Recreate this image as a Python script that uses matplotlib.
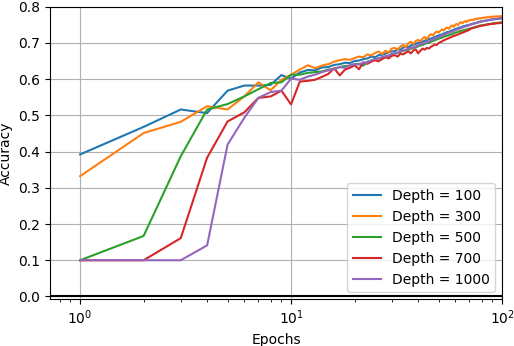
import numpy as np
import matplotlib.pyplot as plt

epochs = np.arange(1, 101)

# first 10 epochs
d100_start = [0.392, 0.468, 0.516, 0.506, 0.568, 0.582, 0.582, 0.584, 0.611, 0.601]
d300_start = [0.332, 0.451, 0.482, 0.525, 0.516, 0.552, 0.591, 0.569, 0.598, 0.612]
d500_start = [0.100, 0.167, 0.387, 0.516, 0.531, 0.552, 0.572, 0.589, 0.591, 0.612]
d700_start = [0.100, 0.100, 0.161, 0.383, 0.483, 0.508, 0.548, 0.552, 0.568, 0.530]
d1000_start = [0.100, 0.100, 0.100, 0.141, 0.419, 0.493, 0.548, 0.564, 0.568, 0.601]

# epochs 11..100
d100_rest = [
    .618, .625, .624, .632, .633, .639, .641, .645, .644, .650,
    .651, .655, .657, .662, .660, .666, .667, .670, .674, .676,
    .677, .682, .681, .687, .689, .688, .693, .695, .697, .700,
    .702, .703, .706, .708, .710, .712, .713, .716, .718, .720,
    .722, .723, .726, .727, .730, .730, .733, .734, .736, .738,
    .739, .741, .742, .743, .745, .746, .747, .748, .749, .750,
    .751, .752, .753, .754, .755, .756, .757, .758, .759, .759,
    .760, .760, .761, .761, .762, .762, .763, .763, .764, .764,
    .765, .765, .765, .766, .766, .766, .767, .767, .767, .767]
d300_rest = [
    .626, .638, .630, .637, .641, .648, .652, .655, .653, .658,
    .662, .660, .668, .665, .672, .676, .669, .678, .673, .684,
    .686, .681, .690, .694, .688, .699, .703, .697, .705, .708,
    .704, .712, .716, .710, .719, .724, .720, .727, .731, .728,
    .733, .737, .734, .740, .742, .739, .745, .748, .744, .750,
    .752, .749, .755, .757, .754, .758, .760, .757, .762, .761,
    .763, .764, .762, .766, .765, .767, .766, .768, .767, .769,
    .768, .770, .769, .770, .771, .770, .771, .772, .771, .772,
    .772, .773, .772, .773, .773, .772, .773, .774, .773, .774]
d500_rest = [
    .612, .617, .619, .621, .626, .628, .633, .636, .637, .641,
    .642, .637, .648, .651, .655, .657, .659, .662, .664, .668,
    .670, .672, .675, .678, .680, .681, .684, .686, .688, .690,
    .693, .694, .697, .699, .700, .703, .705, .707, .709, .711,
    .713, .714, .717, .718, .720, .721, .723, .724, .726, .728,
    .729, .730, .732, .733, .734, .735, .736, .737, .738, .739,
    .740, .741, .742, .743, .744, .745, .746, .747, .748, .748,
    .749, .749, .750, .750, .751, .751, .752, .752, .753, .753,
    .754, .754, .754, .755, .755, .755, .756, .756, .756, .756]
d700_rest = [
    .593, .595, .598, .606, .614, .630, .610, .626, .631, .638,
    .627, .646, .642, .648, .652, .649, .655, .660, .657, .664,
    .666, .662, .670, .668, .673, .676, .671, .679, .682, .671,
    .678, .684, .681, .686, .684, .689, .692, .695, .694, .699,
    .702, .704, .707, .709, .711, .713, .715, .717, .719, .720,
    .722, .723, .725, .727, .728, .730, .731, .733, .734, .736,
    .739, .740, .741, .742, .743, .744, .745, .746, .746, .747,
    .748, .748, .749, .750, .750, .751, .751, .752, .752, .752,
    .753, .753, .753, .754, .754, .754, .754, .755, .755, .755]
d1000_rest = [
    .598, .607, .612, .619, .624, .627, .633, .631, .638, .641,
    .640, .646, .645, .652, .655, .657, .661, .663, .665, .669,
    .671, .673, .676, .679, .681, .684, .686, .688, .690, .693,
    .696, .697, .700, .702, .704, .707, .709, .711, .713, .716,
    .718, .720, .722, .724, .726, .728, .729, .731, .733, .735,
    .736, .738, .739, .741, .742, .744, .745, .746, .747, .749,
    .750, .751, .752, .753, .754, .755, .756, .757, .758, .759,
    .759, .760, .761, .761, .762, .763, .763, .764, .764, .765,
    .765, .766, .766, .766, .767, .767, .767, .768, .768, .768]

depths = [100, 300, 500, 700, 1000]
series = [d100_start + d100_rest, d300_start + d300_rest, d500_start + d500_rest,
          d700_start + d700_rest, d1000_start + d1000_rest]

fig = plt.figure(figsize=(5.14, 3.46), dpi=100)
ax = fig.add_axes([0.0973, 0.1358, 0.8794, 0.8452])

for d, acc in zip(depths, series):
    ax.plot(epochs, acc, label="Depth = %d" % d)

ax.axhline(0, color="k", linewidth=1.5)
ax.set_xscale("log")
ax.set_xlim(0.72, 100)
ax.set_ylim(-0.007, 0.8)
ax.grid(True)
ax.set_xlabel("Epochs")
ax.set_ylabel("Accuracy")
ax.legend(loc="lower right")

fig.savefig("out.png", dpi=100)
